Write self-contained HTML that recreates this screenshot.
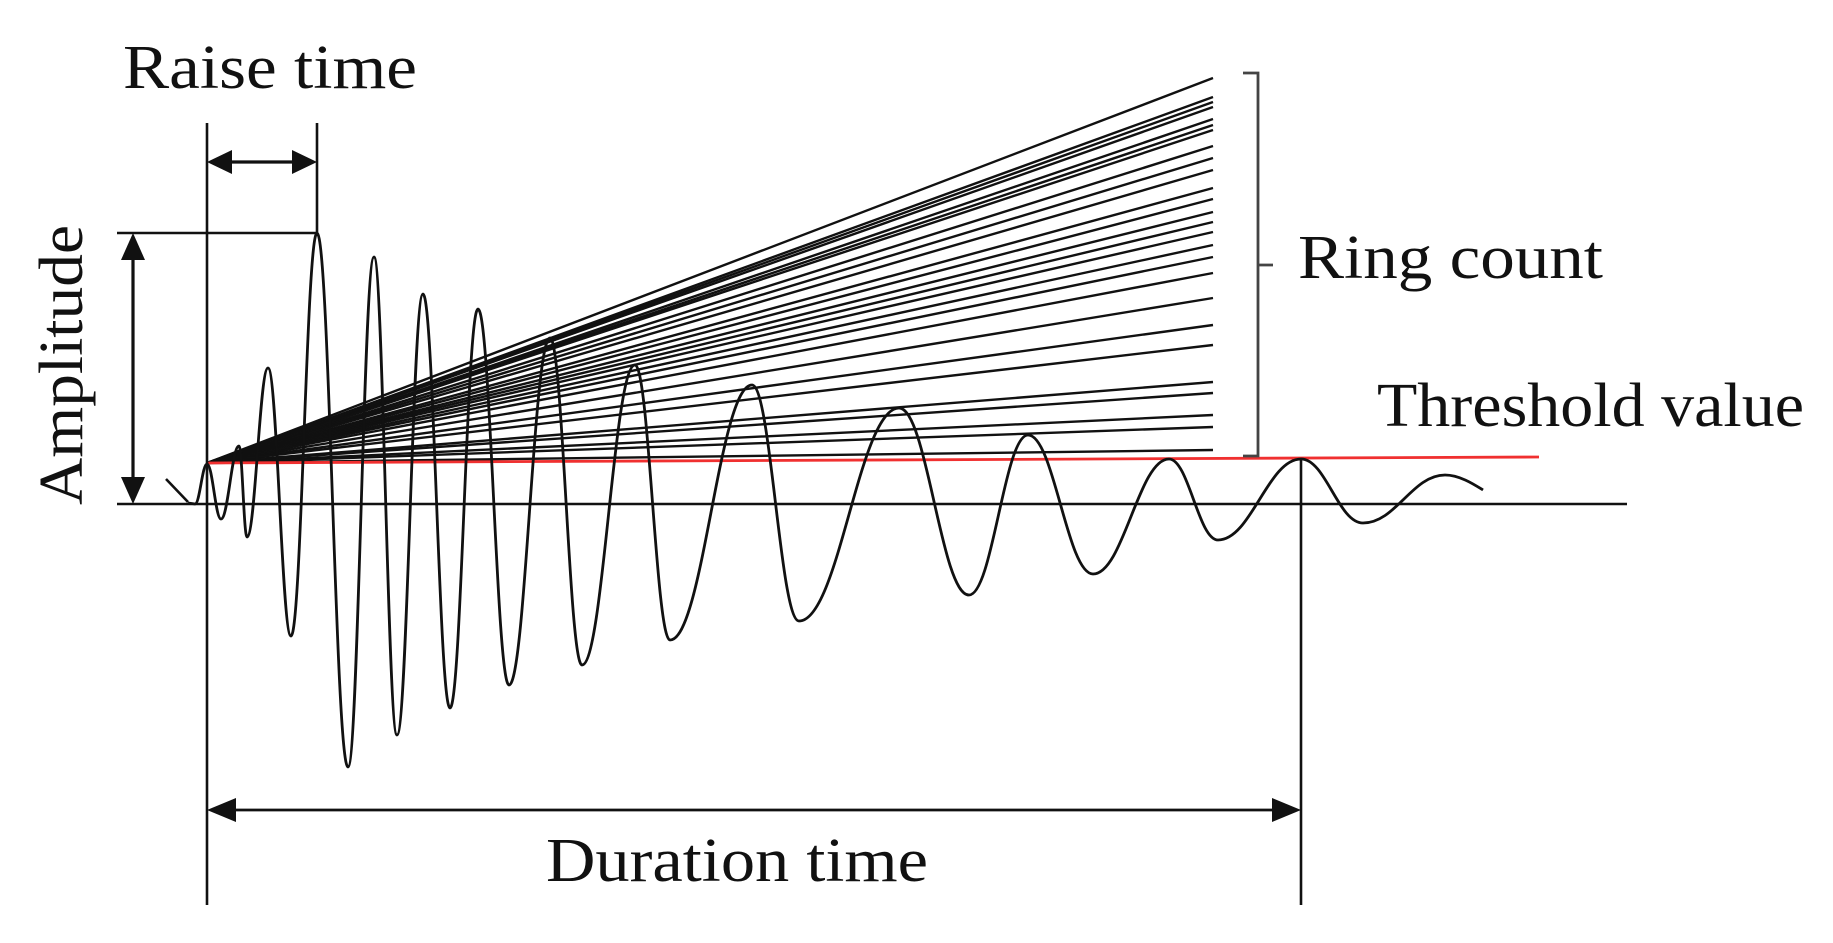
<!DOCTYPE html>
<html><head><meta charset="utf-8"><style>html,body{margin:0;padding:0;background:#fff}svg{display:block}</style></head>
<body>
<svg width="1833" height="943" viewBox="0 0 1833 943" xmlns="http://www.w3.org/2000/svg">
<g stroke="#111" stroke-width="2.6" fill="none">
<g stroke-width="2.4">
<line x1="207" y1="463" x2="1213" y2="78"/><line x1="207" y1="463" x2="1213" y2="97"/>
<line x1="207" y1="463" x2="1213" y2="102"/><line x1="207" y1="463" x2="1213" y2="107"/>
<line x1="207" y1="463" x2="1213" y2="119"/><line x1="207" y1="463" x2="1213" y2="125"/>
<line x1="207" y1="463" x2="1213" y2="130"/><line x1="207" y1="463" x2="1213" y2="146"/>
<line x1="207" y1="463" x2="1213" y2="158"/><line x1="207" y1="463" x2="1213" y2="170"/>
<line x1="207" y1="463" x2="1213" y2="188"/><line x1="207" y1="463" x2="1213" y2="199"/>
<line x1="207" y1="463" x2="1213" y2="212"/><line x1="207" y1="463" x2="1213" y2="222"/>
<line x1="207" y1="463" x2="1213" y2="232"/><line x1="207" y1="463" x2="1213" y2="245"/>
<line x1="207" y1="463" x2="1213" y2="257"/><line x1="207" y1="463" x2="1213" y2="273"/>
<line x1="207" y1="463" x2="1213" y2="298"/><line x1="207" y1="463" x2="1213" y2="325"/>
<line x1="207" y1="463" x2="1213" y2="345"/><line x1="207" y1="463" x2="1213" y2="382"/>
<line x1="207" y1="463" x2="1213" y2="393"/><line x1="207" y1="463" x2="1213" y2="415"/>
<line x1="207" y1="463" x2="1213" y2="427"/><line x1="207" y1="463" x2="1213" y2="450"/>
</g>
<line x1="207" y1="463" x2="1539" y2="457" stroke="#f03030" stroke-width="2.8"/>
<line x1="207" y1="123" x2="207" y2="905"/>
<line x1="317" y1="123" x2="317" y2="235"/>
<line x1="117" y1="233" x2="317" y2="233"/>
<line x1="117" y1="504" x2="1627" y2="504"/>
<line x1="1301" y1="459" x2="1301" y2="905"/>
<line x1="166" y1="479" x2="188" y2="502"/>
<path d="M1243 73 H1258 V456 H1243 M1258 265 H1273" stroke="#444" stroke-width="2.8"/>
<line x1="225" y1="162" x2="299" y2="162" stroke-width="3.2"/>
<line x1="133" y1="252" x2="133" y2="486" stroke-width="3.2"/>
<line x1="225" y1="810" x2="1283" y2="810" stroke-width="2.8"/>
<path stroke-width="2.8" d="M188 503 L195 504 C199.8 504 202.2 464 207 464 C212.6 464 215.4 519 221 519 C228.2 519 231.8 446 239 446 C242.2 446 243.8 537 247 537 C255.4 537 259.6 368 268 368 C277.2 368 281.8 636 291 636 C301.4 636 306.6 233 317 233 C329.4 233 335.6 767 348 767 C358.4 767 363.6 257 374 257 C383.2 257 387.8 735 397 735 C407.4 735 412.6 294 423 294 C433.8 294 439.2 708 450 708 C461.2 708 466.8 309 478 309 C490.4 309 496.6 685 509 685 C525.4 685 533.6 338 550 338 C562.8 338 569.2 665 582 665 C603.2 665 613.8 365 635 365 C649 365 656 640 670 640 C702.8 640 719.2 385 752 385 C770.8 385 780.2 621 799 621 C839 621 859 408 899 408 C927 408 941 595 969 595 C992.6 595 1004.4 435 1028 435 C1054 435 1067 574 1093 574 C1123.4 574 1138.6 459 1169 459 C1188.6 459 1198.4 540 1218 540 C1251.2 540 1267.8 459 1301 459 C1325.8 459 1338.2 523 1363 523 C1395.8 523 1412.2 475 1445 475 C1460 475 1475 485 1483 490"/>
</g>
<g fill="#111">
<polygon points="207,162 232,150 232,174"/>
<polygon points="317,162 292,150 292,174"/>
<polygon points="133,233 121,260 145,260"/>
<polygon points="133,504 121,477 145,477"/>
<polygon points="207,810 236,798 236,822"/>
<polygon points="1301,810 1272,798 1272,822"/>
</g>
<g font-family="Liberation Serif, serif" font-size="62" fill="#111">
<text x="123" y="88" textLength="294" lengthAdjust="spacingAndGlyphs">Raise time</text>
<text x="1298" y="278" textLength="305" lengthAdjust="spacingAndGlyphs">Ring count</text>
<text x="1377" y="426" textLength="427" lengthAdjust="spacingAndGlyphs">Threshold value</text>
<text x="546" y="881" textLength="382" lengthAdjust="spacingAndGlyphs">Duration time</text>
<text transform="translate(82,505) rotate(-90)" x="0" y="0" textLength="280" lengthAdjust="spacingAndGlyphs">Amplitude</text>
</g>
</svg>
</body></html>
